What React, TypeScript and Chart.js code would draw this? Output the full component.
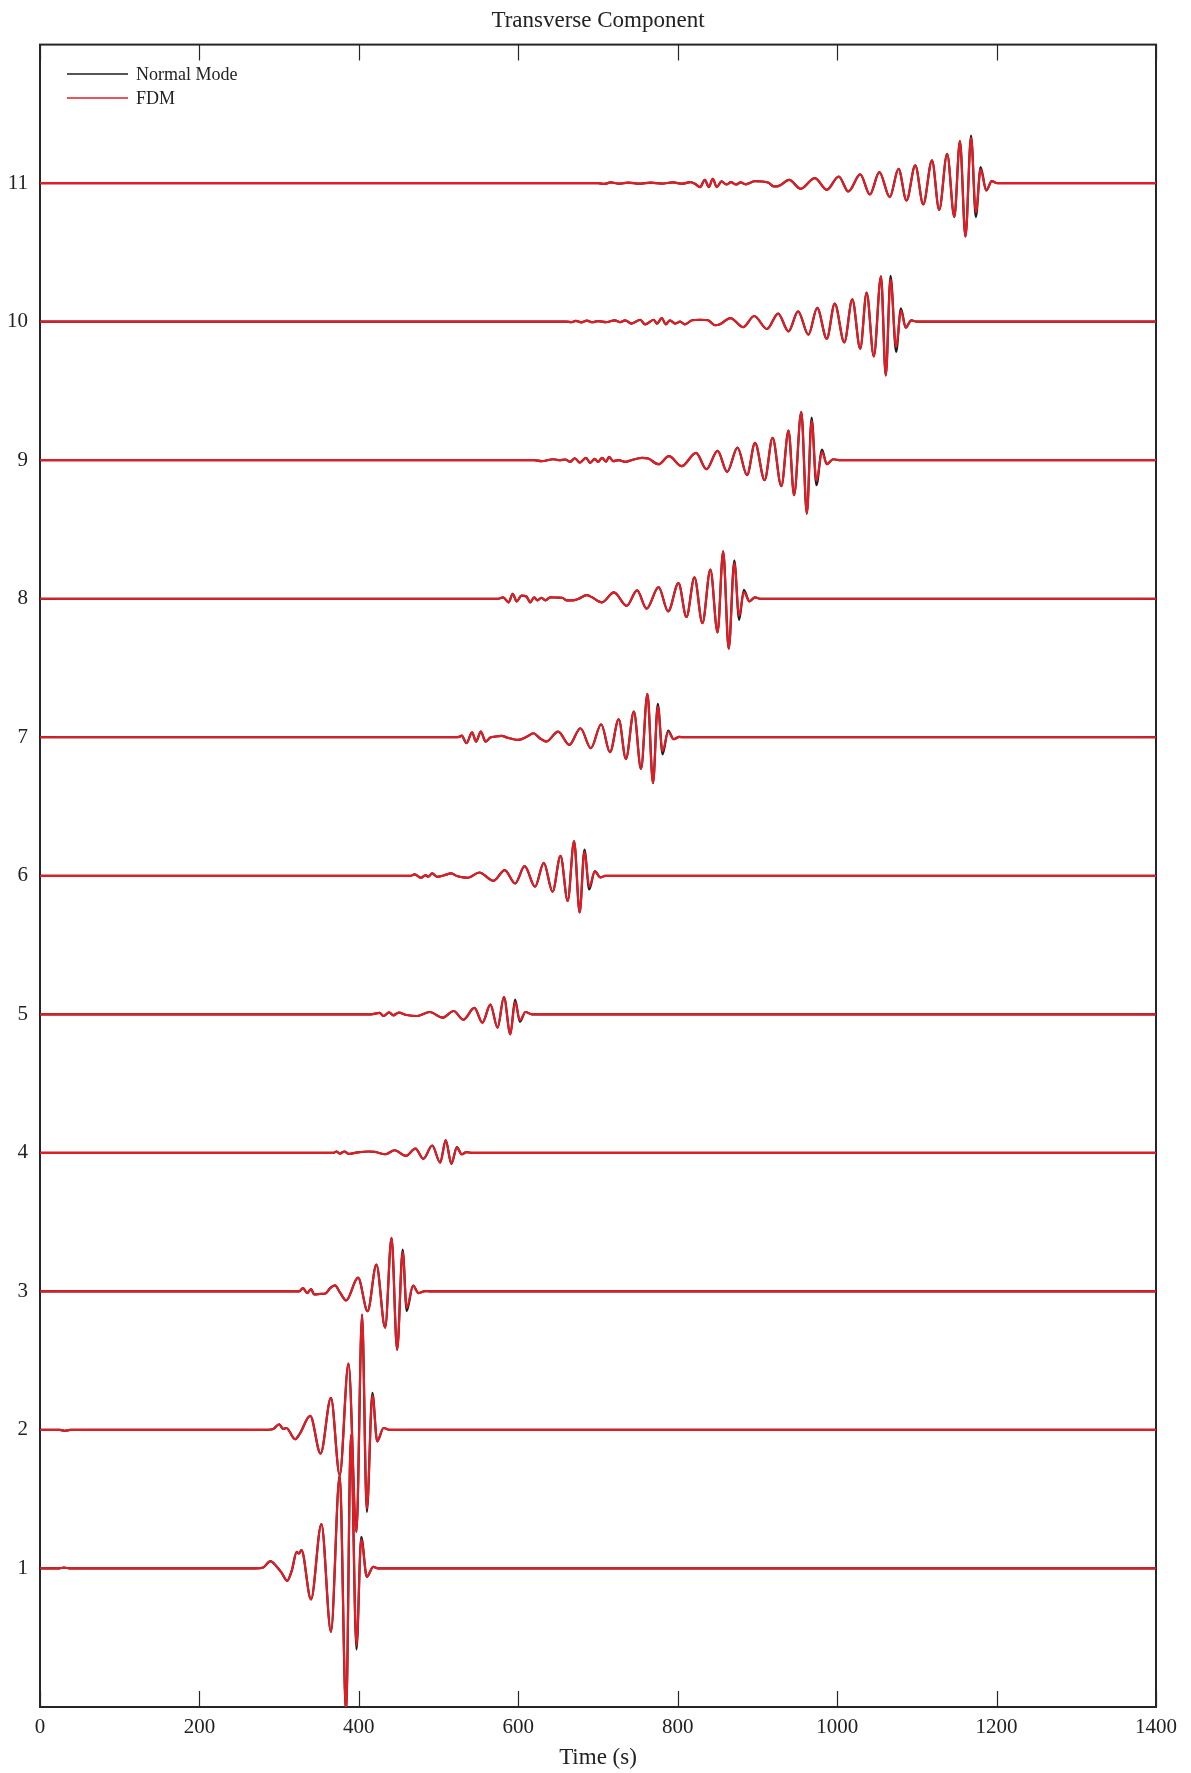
import React, { useEffect, useRef } from 'react';
import { Chart, registerables } from 'chart.js';

Chart.register(...registerables);

// ---- axes / labels ----
const TITLE = 'Transverse Component';
const X_LABEL = 'Time (s)';
const X_TICKS = [0, 200, 400, 600, 800, 1000, 1200, 1400];
const Y_TICKS = [1, 2, 3, 4, 5, 6, 7, 8, 9, 10, 11];
const SERIES_NAMES = ['Normal Mode', 'FDM'];

// ---- trace 1 (offset 1) ----
const T1 = [0, 24, 30, 37, 270, 280, 289, 296, 303, 310, 316, 322, 325, 328, 340, 353, 365, 376, 384, 390, 397, 403, 410, 418, 425, 1400];
const FDM1 = [0, 0, 0.006, 0, 0, 0.007, 0.053, 0.02, -0.03, -0.089, -0.012, 0.12, 0.108, 0.132, -0.224, 0.32, -0.457, 0.674, -1.05, 0.963, -0.554, 0.209, -0.06, 0.012, 0, 0];
const NM1 = [0, 0, 0.006, 0, 0, 0.007, 0.053, 0.02, -0.03, -0.089, -0.012, 0.12, 0.108, 0.132, -0.224, 0.32, -0.457, 0.674, -1.05, 0.963, -0.585, 0.229, -0.06, 0.012, 0, 0];

// ---- trace 2 ----
const T2 = [0, 25, 31, 38, 280, 292, 300, 305, 309, 320, 326, 339, 352, 365, 376, 387, 397, 404, 410, 417, 423, 431, 439, 1400];
const FDM2 = [0, 0, -0.006, 0, 0, 0.005, 0.041, 0.007, 0.014, -0.067, -0.026, 0.101, -0.171, 0.231, -0.327, 0.479, -0.736, 0.833, -0.568, 0.25, -0.082, 0.014, 0, 0];
const NM2 = [0, 0, -0.006, 0, 0, 0.005, 0.041, 0.007, 0.014, -0.067, -0.026, 0.101, -0.171, 0.231, -0.327, 0.479, -0.736, 0.833, -0.592, 0.267, -0.082, 0.014, 0, 0];

// ---- trace 3 ----
const T3 = [0, 325, 330, 335, 340, 344, 353, 358, 364, 370, 376, 384, 399, 411, 422, 433, 441, 448, 455, 460, 468, 475, 483, 489, 1400];
const FDM3 = [0, 0, 0.024, -0.012, 0.017, -0.022, -0.017, -0.015, 0.024, 0.043, -0.005, -0.065, 0.099, -0.142, 0.193, -0.262, 0.387, -0.421, 0.284, -0.118, 0.041, -0.012, 0.002, 0, 0];
const NM3 = [0, 0, 0.024, -0.012, 0.017, -0.022, -0.017, -0.015, 0.024, 0.043, -0.005, -0.065, 0.099, -0.142, 0.193, -0.262, 0.387, -0.421, 0.301, -0.142, 0.041, -0.012, 0.002, 0, 0];

// ---- trace 4 ----
const T4 = [0, 368, 372, 376, 382, 387, 395, 412, 420, 433, 445, 459, 471, 481, 492, 502, 509, 516, 523, 529, 535, 542, 1400];
const FDM4 = [0, 0, 0.01, -0.005, 0.01, -0.007, 0, 0.01, 0.007, -0.01, 0.019, -0.022, 0.031, -0.043, 0.053, -0.07, 0.089, -0.075, 0.038, -0.01, 0.005, 0, 0];
const NM4 = [0, 0, 0.01, -0.005, 0.01, -0.007, 0, 0.01, 0.007, -0.01, 0.019, -0.022, 0.031, -0.043, 0.053, -0.07, 0.092, -0.08, 0.041, -0.01, 0.005, 0, 0];

// ---- trace 5 ----
const T5 = [0, 415, 426, 431, 438, 443, 450, 460, 473, 489, 505, 519, 531, 545, 555, 565, 574, 582, 590, 596, 602, 609, 617, 1400];
const FDM5 = [0, 0, 0.01, -0.012, 0.014, -0.007, 0.012, -0.005, -0.012, 0.017, -0.024, 0.024, -0.039, 0.046, -0.06, 0.07, -0.096, 0.125, -0.144, 0.089, -0.043, 0.017, 0, 0];
const NM5 = [0, 0, 0.01, -0.012, 0.014, -0.007, 0.012, -0.005, -0.012, 0.017, -0.024, 0.024, -0.039, 0.046, -0.06, 0.07, -0.096, 0.125, -0.144, 0.106, -0.055, 0.017, 0, 0];

// ---- trace 6 ----
const T6 = [0, 465, 470, 478, 484, 487, 492, 498, 506, 516, 523, 531, 537, 551, 569, 583, 596, 608, 621, 632, 643, 653, 662, 670, 677, 683, 689, 696, 703, 709, 1400];
const FDM6 = [0, 0, 0.01, -0.014, 0.005, -0.007, 0.017, -0.007, 0.002, 0.017, -0.002, -0.012, -0.014, 0.024, -0.036, 0.041, -0.055, 0.07, -0.079, 0.094, -0.115, 0.144, -0.181, 0.25, -0.265, 0.173, -0.079, 0.03, -0.012, 0, 0];
const NM6 = [0, 0, 0.01, -0.014, 0.005, -0.007, 0.017, -0.007, 0.002, 0.017, -0.002, -0.012, -0.014, 0.024, -0.036, 0.041, -0.055, 0.07, -0.079, 0.094, -0.115, 0.144, -0.181, 0.25, -0.265, 0.19, -0.099, 0.034, -0.012, 0, 0];

// ---- trace 7 ----
const T7 = [0, 520, 526, 529, 535, 542, 547, 553, 559, 565, 571, 579, 586, 592, 600, 611, 619, 627, 635, 650, 664, 678, 691, 704, 715, 726, 735, 745, 754, 762, 769, 775, 781, 788, 795, 802, 808, 1400];
const FDM7 = [0, 0, 0.003, 0.012, -0.043, 0.036, -0.031, 0.041, -0.031, -0.002, 0.005, 0.01, -0.002, -0.012, -0.019, 0.005, 0.029, -0.007, -0.031, 0.041, -0.055, 0.065, -0.079, 0.094, -0.108, 0.13, -0.156, 0.185, -0.229, 0.313, -0.332, 0.221, -0.099, 0.04, -0.014, 0.003, 0, 0];
const NM7 = [0, 0, 0.003, 0.012, -0.043, 0.036, -0.031, 0.041, -0.031, -0.002, 0.005, 0.01, -0.002, -0.012, -0.019, 0.005, 0.029, -0.007, -0.031, 0.041, -0.055, 0.065, -0.079, 0.094, -0.108, 0.13, -0.156, 0.185, -0.229, 0.313, -0.332, 0.241, -0.123, 0.048, -0.014, 0.003, 0, 0];

// ---- trace 8 ----
const T8 = [0, 575, 581, 588, 593, 598, 604, 610, 615, 620, 624, 629, 634, 640, 650, 655, 661, 668, 675, 686, 692, 705, 720, 736, 749, 761, 776, 788, 801, 811, 821, 831, 841, 850, 857, 864, 871, 877, 883, 890, 897, 903, 1400];
const FDM8 = [0, 0, 0.01, -0.026, 0.036, -0.019, 0.022, 0.017, -0.026, 0.01, -0.012, 0.007, -0.012, 0.01, 0.008, 0.007, -0.012, -0.012, -0.002, 0.026, 0.012, -0.026, 0.046, -0.051, 0.06, -0.072, 0.084, -0.091, 0.113, -0.132, 0.154, -0.176, 0.21, -0.243, 0.342, -0.361, 0.258, -0.123, 0.048, -0.019, 0.01, 0, 0];
const NM8 = [0, 0, 0.01, -0.026, 0.036, -0.019, 0.022, 0.017, -0.026, 0.01, -0.012, 0.007, -0.012, 0.01, 0.008, 0.007, -0.012, -0.012, -0.002, 0.026, 0.012, -0.026, 0.046, -0.051, 0.06, -0.072, 0.084, -0.091, 0.113, -0.132, 0.154, -0.176, 0.21, -0.243, 0.342, -0.361, 0.277, -0.152, 0.065, -0.019, 0.01, 0, 0];

// ---- trace 9 ----
const T9 = [0, 620, 629, 644, 652, 659, 665, 671, 677, 685, 690, 696, 700, 705, 710, 714, 719, 726, 734, 742, 755, 763, 776, 789, 805, 823, 836, 850, 862, 875, 887, 897, 909, 919, 930, 939, 946, 955, 962, 968, 974, 981, 987, 995, 1004, 1400];
const FDM9 = [0, 0, -0.007, 0.007, 0, 0.005, -0.012, 0.014, -0.017, 0.017, -0.019, 0.01, -0.012, 0.017, -0.01, 0.024, -0.007, 0, -0.012, 0, 0.017, 0.012, -0.029, 0.029, -0.043, 0.053, -0.065, 0.067, -0.084, 0.091, -0.108, 0.125, -0.144, 0.161, -0.188, 0.214, -0.253, 0.349, -0.385, 0.284, -0.149, 0.06, -0.029, 0.007, 0, 0];
const NM9 = [0, 0, -0.007, 0.007, 0, 0.005, -0.012, 0.014, -0.017, 0.017, -0.019, 0.01, -0.012, 0.017, -0.01, 0.024, -0.007, 0, -0.012, 0, 0.017, 0.012, -0.029, 0.029, -0.043, 0.053, -0.065, 0.067, -0.084, 0.091, -0.108, 0.125, -0.144, 0.161, -0.188, 0.214, -0.253, 0.349, -0.385, 0.308, -0.181, 0.077, -0.029, 0.007, 0, 0];

// ---- trace 10 ----
const T10 = [0, 660, 667, 672, 679, 686, 693, 700, 710, 721, 728, 734, 742, 753, 759, 770, 774, 780, 785, 790, 797, 803, 809, 818, 828, 838, 847, 853, 866, 882, 896, 912, 926, 939, 951, 964, 975, 987, 997, 1009, 1019, 1029, 1037, 1046, 1055, 1061, 1067, 1074, 1080, 1086, 1093, 1100, 1400];
const FDM10 = [0, 0, -0.004, 0.006, -0.005, 0.007, -0.004, 0.004, -0.003, 0.01, -0.004, 0.01, -0.014, 0.014, -0.019, 0.014, -0.014, 0.026, -0.019, 0.01, -0.014, 0, -0.019, 0.01, 0.014, 0.01, -0.026, -0.019, 0.026, -0.039, 0.041, -0.053, 0.058, -0.07, 0.075, -0.094, 0.099, -0.123, 0.13, -0.149, 0.161, -0.195, 0.209, -0.25, 0.327, -0.388, 0.303, -0.183, 0.08, -0.043, 0.01, 0, 0];
const NM10 = [0, 0, -0.004, 0.006, -0.005, 0.007, -0.004, 0.004, -0.003, 0.01, -0.004, 0.01, -0.014, 0.014, -0.019, 0.014, -0.014, 0.026, -0.019, 0.01, -0.014, 0, -0.019, 0.01, 0.014, 0.01, -0.026, -0.019, 0.026, -0.039, 0.041, -0.053, 0.058, -0.07, 0.075, -0.094, 0.099, -0.123, 0.13, -0.149, 0.161, -0.195, 0.209, -0.25, 0.327, -0.388, 0.33, -0.219, 0.096, -0.043, 0.01, 0, 0];

// ---- trace 11 ----
const T11 = [0, 700, 708, 716, 726, 738, 752, 766, 780, 794, 806, 816, 822, 828, 834, 839, 844, 849, 855, 861, 867, 873, 879, 885, 897, 906, 914, 921, 926, 940, 954, 972, 987, 1002, 1014, 1029, 1041, 1053, 1066, 1077, 1087, 1098, 1108, 1119, 1128, 1138, 1147, 1154, 1161, 1168, 1174, 1180, 1187, 1194, 1201, 1400];
const FDM11 = [0, 0, -0.006, 0.006, -0.004, 0.004, -0.004, 0.004, -0.003, 0.005, -0.004, 0.008, -0.006, -0.029, 0.024, -0.029, 0.031, -0.029, 0.012, -0.01, 0.008, -0.01, 0.005, -0.009, 0.014, 0.012, 0.002, -0.024, -0.022, 0.024, -0.041, 0.036, -0.048, 0.048, -0.06, 0.063, -0.082, 0.079, -0.101, 0.103, -0.125, 0.128, -0.154, 0.164, -0.193, 0.212, -0.245, 0.303, -0.385, 0.327, -0.209, 0.1, -0.053, 0.014, 0, 0];
const NM11 = [0, 0, -0.006, 0.006, -0.004, 0.004, -0.004, 0.004, -0.003, 0.005, -0.004, 0.008, -0.006, -0.029, 0.024, -0.029, 0.031, -0.029, 0.012, -0.01, 0.008, -0.01, 0.005, -0.009, 0.014, 0.012, 0.002, -0.024, -0.022, 0.024, -0.041, 0.036, -0.048, 0.048, -0.06, 0.063, -0.082, 0.079, -0.101, 0.103, -0.125, 0.128, -0.154, 0.164, -0.193, 0.212, -0.245, 0.303, -0.385, 0.344, -0.245, 0.116, -0.053, 0.014, 0, 0];

const TRACE_OFFSETS = [1, 2, 3, 4, 5, 6, 7, 8, 9, 10, 11];
const TRACE_TIMES = [T1, T2, T3, T4, T5, T6, T7, T8, T9, T10, T11];
const TRACE_FDM = [FDM1, FDM2, FDM3, FDM4, FDM5, FDM6, FDM7, FDM8, FDM9, FDM10, FDM11];
const TRACE_NM = [NM1, NM2, NM3, NM4, NM5, NM6, NM7, NM8, NM9, NM10, NM11];

// ---- styling ----
const FONT = "'Liberation Serif', 'Times New Roman', serif";
const RED = 'rgb(226, 28, 36)';
const BLACK = '#1c1c1c';
const AXIS = '#262626';
const LINE_W = 2.2;

const framePlugin = {
  id: 'framePlugin',
  beforeDatasetsDraw(chart: any) {
    const { ctx, chartArea: a, scales } = chart;
    const x = scales.x;
    const y = scales.y;
    const tl = 16;
    ctx.save();
    ctx.strokeStyle = AXIS;
    ctx.lineWidth = 1.2;
    ctx.beginPath();
    for (const v of X_TICKS) {
      const px = Math.round(x.getPixelForValue(v)) + 0.5;
      ctx.moveTo(px, a.bottom);
      ctx.lineTo(px, a.bottom - tl);
      ctx.moveTo(px, a.top);
      ctx.lineTo(px, a.top + tl);
    }
    for (const v of Y_TICKS) {
      const py = y.getPixelForValue(v);
      ctx.moveTo(a.left, py);
      ctx.lineTo(a.left + tl, py);
      ctx.moveTo(a.right, py);
      ctx.lineTo(a.right - tl, py);
    }
    ctx.stroke();
    ctx.lineWidth = 2;
    ctx.strokeRect(a.left, a.top, a.right - a.left, a.bottom - a.top);
    ctx.restore();
  },
  afterDraw(chart: any) {
    const { ctx, chartArea: a } = chart;
    const colors = [BLACK, RED];
    const rows = [74, 98];
    ctx.save();
    ctx.font = `18px ${FONT}`;
    ctx.textBaseline = 'middle';
    ctx.textAlign = 'left';
    SERIES_NAMES.forEach((name, i) => {
      const yy = rows[i];
      ctx.strokeStyle = colors[i];
      ctx.lineWidth = 1.6;
      ctx.beginPath();
      ctx.moveTo(a.left + 27, yy);
      ctx.lineTo(a.left + 88, yy);
      ctx.stroke();
      ctx.fillStyle = '#222';
      ctx.fillText(name, a.left + 96, yy + 1);
    });
    ctx.restore();
  },
};

export default function App() {
  const canvasRef = useRef<HTMLCanvasElement | null>(null);

  useEffect(() => {
    const canvas = canvasRef.current;
    if (!canvas) return;

    const datasets: any[] = [];
    TRACE_OFFSETS.forEach((off, i) => {
      const times = TRACE_TIMES[i];
      datasets.push({
        label: SERIES_NAMES[1],
        data: times.map((t, j) => ({ x: t, y: off + TRACE_FDM[i][j] })),
        borderColor: RED,
        borderWidth: LINE_W,
        pointRadius: 0,
        cubicInterpolationMode: 'monotone',
        borderJoinStyle: 'round',
        borderCapStyle: 'round',
        fill: false,
        order: 0,
      });
      datasets.push({
        label: SERIES_NAMES[0],
        data: times.map((t, j) => ({ x: t, y: off + TRACE_NM[i][j] })),
        borderColor: BLACK,
        borderWidth: LINE_W,
        pointRadius: 0,
        cubicInterpolationMode: 'monotone',
        borderJoinStyle: 'round',
        borderCapStyle: 'round',
        fill: false,
        order: 1,
      });
    });

    const chart = new Chart(canvas, {
      type: 'line',
      data: { datasets },
      options: {
        responsive: false,
        animation: false,
        devicePixelRatio: 1,
        events: [],
        layout: { padding: { top: 0, right: 35, bottom: 0, left: 0 } },
        plugins: {
          legend: { display: false },
          tooltip: { enabled: false },
          title: {
            display: true,
            text: TITLE,
            fullSize: false,
            color: '#222',
            font: { family: FONT, size: 23, weight: 'normal' },
            padding: { top: 7, bottom: 10 },
          },
        },
        scales: {
          x: {
            type: 'linear',
            min: 0,
            max: 1400,
            afterFit: (s: any) => { s.height = 66; },
            afterBuildTicks: (s: any) => { s.ticks = X_TICKS.map((v) => ({ value: v })); },
            ticks: {
              autoSkip: false,
              maxRotation: 0,
              padding: 8,
              color: '#222',
              font: { family: FONT, size: 21 },
              callback: (v: any) => String(v),
            },
            grid: { display: false, drawTicks: false },
            border: { display: false },
            title: {
              display: true,
              text: X_LABEL,
              color: '#222',
              font: { family: FONT, size: 23 },
              padding: { top: 0, bottom: 1 },
            },
          },
          y: {
            type: 'linear',
            min: 0,
            max: 12,
            afterFit: (s: any) => { s.width = 40; },
            afterBuildTicks: (s: any) => { s.ticks = Y_TICKS.map((v) => ({ value: v })); },
            ticks: {
              padding: 12,
              color: '#222',
              font: { family: FONT, size: 21 },
              callback: (v: any) => String(v),
            },
            grid: { display: false, drawTicks: false },
            border: { display: false },
          },
        },
      },
      plugins: [framePlugin],
    } as any);

    return () => chart.destroy();
  }, []);

  return (
    <div style={{ position: 'absolute', left: 0, top: 0, width: 1191, height: 1773, background: '#fff' }}>
      <canvas ref={canvasRef} width={1191} height={1773} style={{ display: 'block' }} />
    </div>
  );
}
